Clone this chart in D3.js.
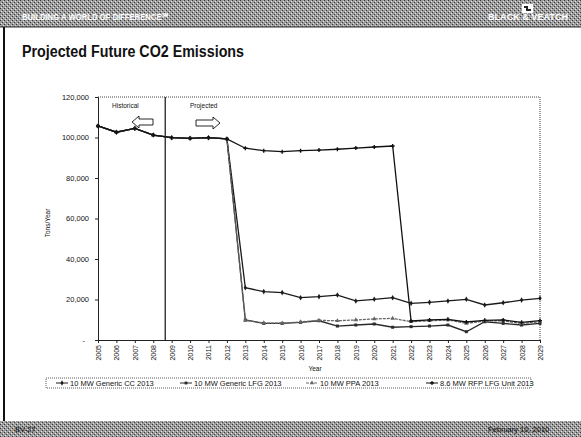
<!DOCTYPE html>
<html><head><meta charset="utf-8">
<script src="https://cdn.jsdelivr.net/npm/d3@7"></script>
<style>
html,body{margin:0;padding:0;background:#fff;}
svg{display:block;font-family:"Liberation Sans",Arial,sans-serif;}
</style></head>
<body>
<svg id="c" width="581" height="437"></svg>
<script>
// ---------- data ----------
const years = [2005,2006,2007,2008,2009,2010,2011,2012,2013,2014,2015,2016,2017,2018,2019,2020,2021,2022,2023,2024,2025,2026,2027,2028,2029];
const historical = [105700,102600,104500,101200,99900,99600,99900,99300];
const seriesNames = ["10 MW Generic CC 2013","10 MW Generic LFG 2013","10 MW PPA 2013","8.6 MW RFP LFG Unit 2013"];
const ccValues  = historical.concat([25800,23900,23400,20900,21400,22200,19300,20100,20900,18100,18600,19300,20100,17300,18400,19700,20600]);
const lfgValues = historical.concat([9900,8200,8200,8700,9500,6900,7400,7900,6300,6600,6900,7400,4100,9000,8200,7400,8200]);
const ppaValues = historical.concat([9700,8400,8300,8900,9700,9500,9900,10400,10700,9000,9500,9900,8200,9400,9400,8200,9000]);
const rfpValues = historical.concat([94700,93500,93000,93500,93800,94200,94800,95300,95800,9400,9900,10200,8900,9700,9900,8700,9600]);
const yTicks = [0,20000,40000,60000,80000,100000,120000];
const periodLabels = ["Historical","Projected"];

const svg = d3.select("#c");

// ---------- slide chrome ----------
const defs = svg.append("defs");
const pat = defs.append("pattern").attr("id","halftone").attr("width",4).attr("height",4).attr("patternUnits","userSpaceOnUse");
pat.append("rect").attr("width",4).attr("height",4).attr("fill","#9c9c9c");
pat.append("rect").attr("x",0).attr("y",0).attr("width",1).attr("height",1).attr("fill","#3a3a3a");
pat.append("rect").attr("x",2).attr("y",2).attr("width",1).attr("height",1).attr("fill","#3a3a3a");
pat.append("rect").attr("x",1).attr("y",3).attr("width",1).attr("height",1).attr("fill","#e0e0e0");
pat.append("rect").attr("x",3).attr("y",1).attr("width",1).attr("height",1).attr("fill","#e0e0e0");

svg.append("rect").attr("x",0).attr("y",0).attr("width",581).attr("height",27).attr("fill","url(#halftone)");
svg.append("line").attr("x1",0).attr("x2",581).attr("y1",27).attr("y2",27).attr("stroke","#333").attr("stroke-width",1);
svg.append("text").attr("x",22).attr("y",20).attr("font-size",9.5).attr("fill","#fff").attr("font-weight","bold")
  .attr("textLength",146).attr("lengthAdjust","spacingAndGlyphs")
  .text("BUILDING A WORLD OF DIFFERENCE\u2120");
svg.append("text").attr("x",488).attr("y",20).attr("font-size",8.5).attr("font-weight","bold").attr("fill","#fff")
  .attr("textLength",80).attr("lengthAdjust","spacingAndGlyphs").text("BLACK & VEATCH");
svg.append("rect").attr("x",522).attr("y",4).attr("width",11).attr("height",9).attr("fill","#fff");
svg.append("path").attr("d","M524,6 L528,6 L528,9 L531,9 L531,11 L526,11 L526,8 L524,8 Z").attr("fill","#222");

svg.append("rect").attr("x",0).attr("y",421).attr("width",581).attr("height",16).attr("fill","url(#halftone)");
svg.append("text").attr("x",15).attr("y",432).attr("font-size",7.5).attr("fill","#111").text("BV-27");
svg.append("text").attr("x",488).attr("y",432).attr("font-size",7.5).attr("fill","#111").text("February 10, 2010");
svg.append("rect").attr("x",3).attr("y",27).attr("width",2).attr("height",394).attr("fill","#111");

svg.append("text").attr("x",22).attr("y",57).attr("font-size",16).attr("font-weight","bold").attr("fill","#111")
  .attr("textLength",222).attr("lengthAdjust","spacingAndGlyphs")
  .text("Projected Future CO2 Emissions");

// ---------- chart ----------
const x = d3.scalePoint().domain(years).range([98,540]);
const y = d3.scaleLinear().domain([0,120000]).range([340,97]);

// plot frame (dotted top/right)
svg.append("line").attr("x1",98).attr("x2",540).attr("y1",97).attr("y2",97).attr("stroke","#444").attr("stroke-dasharray","1,1");
svg.append("line").attr("x1",540).attr("x2",540).attr("y1",97).attr("y2",340).attr("stroke","#444").attr("stroke-dasharray","1,1");

// y axis
const yAxis = svg.append("g").attr("transform","translate(98,0)")
  .call(d3.axisLeft(y).tickValues(yTicks).tickSize(3).tickFormat(d => d === 0 ? "-" : d3.format(",")(d)));
yAxis.selectAll("text").attr("font-size",7.5).attr("fill","#111").attr("font-family","Liberation Sans, Arial")
  .attr("dx", d => d === 0 ? -7 : -3);
yAxis.selectAll("line,path").attr("stroke","#222");

// x axis
const xAxis = svg.append("g").attr("transform","translate(0,340)").call(d3.axisBottom(x).tickSize(3));
xAxis.selectAll("text").attr("font-size",7).attr("fill","#111").attr("font-family","Liberation Sans, Arial")
  .attr("transform","rotate(-90)").attr("text-anchor","end").attr("x",-5).attr("y",0).attr("dy","0.35em");
xAxis.selectAll("line,path").attr("stroke","#222");

// axis titles
svg.append("text").attr("x",315).attr("y",371).attr("text-anchor","middle").attr("font-size",6.5).attr("fill","#111").text("Year");
svg.append("text").attr("transform","translate(50,223) rotate(-90)").attr("text-anchor","middle").attr("font-size",6.5).attr("fill","#111").text("Tons/Year");

// historical/projected divider
const divX = x(2008) + x.step()*0.65;
svg.append("line").attr("x1",divX).attr("x2",divX).attr("y1",97).attr("y2",340).attr("stroke","#111").attr("stroke-width",1.2);
svg.append("text").attr("x",112).attr("y",108).attr("font-size",6.5).attr("fill","#111").text(periodLabels[0]);
svg.append("text").attr("x",190).attr("y",108).attr("font-size",6.5).attr("fill","#111").text(periodLabels[1]);
// hollow block arrows
svg.append("path").attr("d","M132,122 L139,116 L139,119 L153,119 L153,125 L139,125 L139,128 Z")
  .attr("fill","#fff").attr("stroke","#111").attr("stroke-width",0.9);
svg.append("path").attr("d","M220,123 L213,117 L213,120 L196,120 L196,126 L213,126 L213,129 Z")
  .attr("fill","#fff").attr("stroke","#111").attr("stroke-width",0.9);

// series
const series = [
  {name:seriesNames[0], values:ccValues,  color:"#1a1a1a", dash:null,  marker:"diamond"},
  {name:seriesNames[1], values:lfgValues, color:"#2a2a2a", dash:null,  marker:"square"},
  {name:seriesNames[2], values:ppaValues, color:"#666",    dash:"3,1", marker:"triangle"},
  {name:seriesNames[3], values:rfpValues, color:"#111",    dash:null,  marker:"cross"}
];
const symType = {diamond:d3.symbolDiamond, square:d3.symbolSquare, triangle:d3.symbolTriangle, cross:d3.symbolCross};
const line = d3.line().x((d,i)=>x(years[i])).y(d=>y(d));

series.forEach(s => {
  svg.append("path").datum(s.values).attr("d",line).attr("fill","none")
    .attr("stroke",s.color).attr("stroke-width",1.3).attr("stroke-dasharray",s.dash);
  svg.append("g").selectAll("path").data(s.values).join("path")
    .attr("transform",(d,i)=>`translate(${x(years[i])},${y(d)})`)
    .attr("d",d3.symbol().type(symType[s.marker]).size(9))
    .attr("fill",s.color);
});

// legend
svg.append("rect").attr("x",46).attr("y",378).attr("width",485).attr("height",10)
  .attr("fill","#fff").attr("stroke","#333").attr("stroke-width",0.8).attr("stroke-dasharray","1,1");
const legX = [56,180,306,426];
series.forEach((s,i) => {
  const g = svg.append("g").attr("transform",`translate(${legX[i]},383)`);
  g.append("line").attr("x1",0).attr("x2",12).attr("stroke",s.color).attr("stroke-width",1).attr("stroke-dasharray",s.dash);
  g.append("path").attr("transform","translate(6,0)").attr("d",d3.symbol().type(symType[s.marker]).size(8)).attr("fill",s.color);
  g.append("text").attr("x",14).attr("y",2.6).attr("font-size",7.5).attr("fill","#111").text(s.name);
});
</script>
</body></html>
